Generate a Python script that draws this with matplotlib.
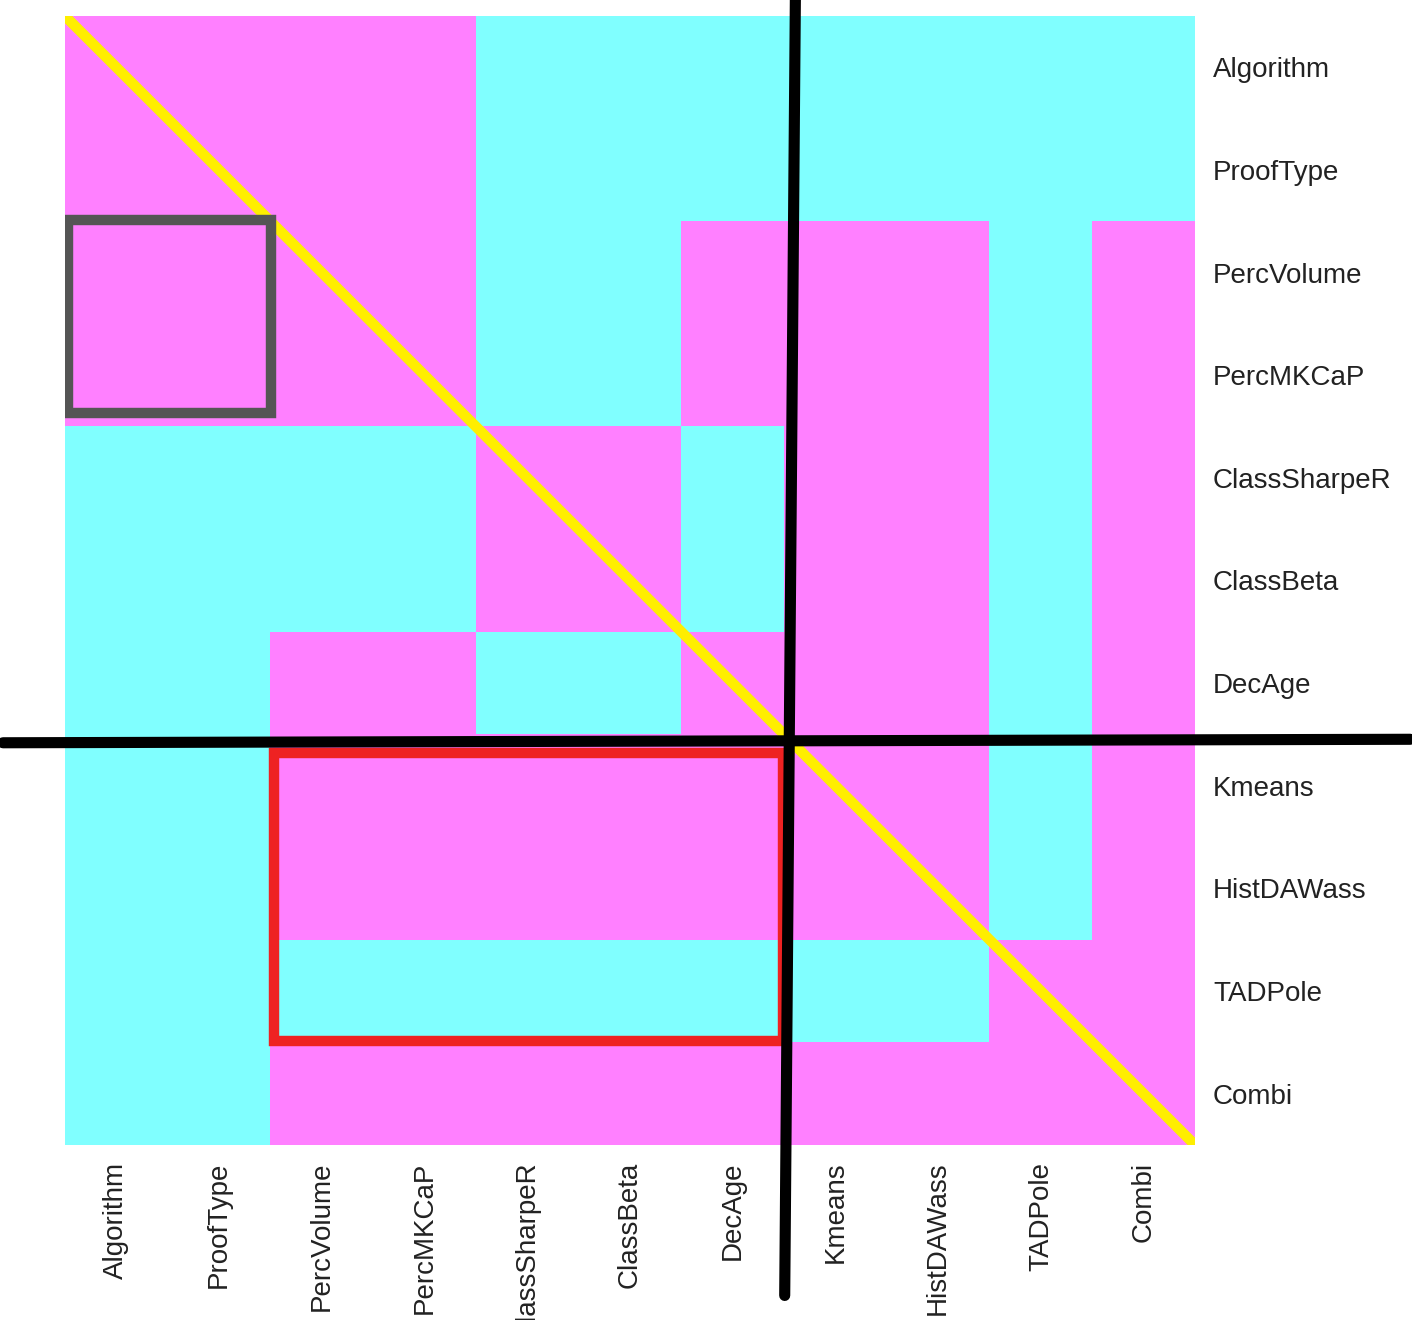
import numpy as np
import matplotlib.pyplot as plt
from matplotlib.colors import ListedColormap
from matplotlib.patches import Rectangle

# variable names (rows and columns)
names = ["Algorithm", "ProofType", "PercVolume", "PercMKCaP", "ClassSharpeR",
         "ClassBeta", "DecAge", "Kmeans", "HistDAWass", "TADPole", "Combi"]

# 1 = magenta, 0 = cyan
row_algorithm = [1, 1, 1, 1, 0, 0, 0, 0, 0, 0, 0]
row_prooftype = [1, 1, 1, 1, 0, 0, 0, 0, 0, 0, 0]
row_percvolume = [1, 1, 1, 1, 0, 0, 1, 1, 1, 0, 1]
row_percmkcap = [1, 1, 1, 1, 0, 0, 1, 1, 1, 0, 1]
row_classsharper = [0, 0, 0, 0, 1, 1, 0, 1, 1, 0, 1]
row_classbeta = [0, 0, 0, 0, 1, 1, 0, 1, 1, 0, 1]
row_decage = [0, 0, 1, 1, 0, 0, 1, 1, 1, 0, 1]
row_kmeans = [0, 0, 1, 1, 1, 1, 1, 1, 1, 0, 1]
row_histdawass = [0, 0, 1, 1, 1, 1, 1, 1, 1, 0, 1]
row_tadpole = [0, 0, 0, 0, 0, 0, 0, 0, 0, 1, 1]
row_combi = [0, 0, 1, 1, 1, 1, 1, 1, 1, 1, 1]

matrix = np.array([row_algorithm, row_prooftype, row_percvolume, row_percmkcap,
                   row_classsharper, row_classbeta, row_decage, row_kmeans,
                   row_histdawass, row_tadpole, row_combi])

plt.rcParams['font.family'] = ['Liberation Sans', 'DejaVu Sans']

fig = plt.figure(figsize=(14.12, 13.2), dpi=100)
ax = fig.add_axes([65 / 1412, 175 / 1320, 1130 / 1412, 1129 / 1320])

cmap = ListedColormap(["#80FFFF", "#FF80FF"])
ax.imshow(matrix, cmap=cmap, vmin=0, vmax=1, aspect="auto", interpolation="nearest")

n = len(names)
ax.set_xticks(range(n))
ax.set_xticklabels(names, rotation=90, fontsize=20, color="#222222")
ax.set_yticks(range(n))
ax.set_yticklabels(names, fontsize=20, color="#222222")
ax.yaxis.tick_right()
ax.tick_params(axis="x", length=0, pad=12)
ax.tick_params(axis="y", length=0, pad=13)
for s in ax.spines.values():
    s.set_visible(False)

# hand drawn overlays
ax.plot([-0.5, 10.5], [-0.5, 10.5], color="#FFEE00", lw=7.5, solid_capstyle="round", zorder=3)
ax.add_patch(Rectangle((-0.47, 1.49), 1.98, 1.88, fill=False, ec="#555555", lw=7.5, zorder=3))
ax.add_patch(Rectangle((1.535, 6.68), 4.955, 2.81, fill=False, ec="#EE2222", lw=7.5, zorder=3))
ax.plot([6.61, 6.506], [-0.7, 11.966], color="black", lw=8, solid_capstyle="round",
        clip_on=False, zorder=4)
ax.plot([-1.104, 12.596], [6.581, 6.547], color="black", lw=8, solid_capstyle="round",
        clip_on=False, zorder=4)

ax.set_xlim(-0.5, 10.5)
ax.set_ylim(10.5, -0.5)

fig.savefig("out.png", dpi=100)
